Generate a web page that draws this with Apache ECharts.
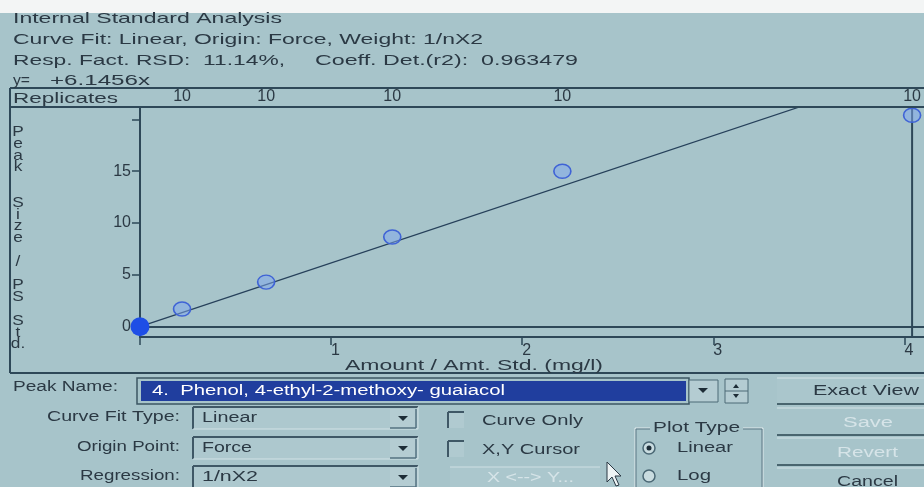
<!DOCTYPE html>
<html>
<head>
<meta charset="utf-8">
<script src="https://cdn.jsdelivr.net/npm/echarts@6/dist/echarts.min.js"></script>
<style>html,body{margin:0;padding:0;background:#a6c3c9;}#c{width:924px;height:487px;}</style>
</head>
<body>
<div id="c"></div>
<script>
// ---- data ----
const pointX = [0.22, 0.66, 1.32, 2.21, 4.04];
const pointY = [1.7, 4.3, 8.65, 15.0, 20.4];
const replicates = [10, 10, 10, 10, 10];
const originX = [0];
const originY = [0];
const slope = 6.1456;
const xTicks = [0, 1, 2, 3, 4];
const xTickLabels = [1, 2, 3, 4];
const yTicks = [0, 5, 10, 15, 20];
const yTickLabels = [0, 5, 10, 15];
const xRange = [0, 4.04];
const yRange = [-1, 21.2];

// ---- style ----
const BG = '#a7c4ca', TXT = '#2b3944', LINE = '#2e4858', GRAY = '#d6e4e8', FACE = '#b4ccd2';
const FONT = '"Liberation Sans", Arial, sans-serif';
const mctx = document.createElement('canvas').getContext('2d');
function T(text, x1, x2, yc, fs, color) {
  const font = fs + 'px ' + FONT;
  mctx.font = font;
  const w = mctx.measureText(text).width;
  return { type: 'text', x: x1, y: yc, scaleX: (x2 - x1) / w, z: 20,
    style: { text: text, font: font, fill: color || TXT, textAlign: 'left', textVerticalAlign: 'middle', align: 'left', verticalAlign: 'middle' } };
}
function L(x1, y1, x2, y2, c, w) {
  return { type: 'line', z: 15, shape: { x1, y1, x2, y2 }, style: { stroke: c || LINE, lineWidth: w || 2 } };
}
function R(x, y, w, h, fill, stroke, lw) {
  return { type: 'rect', z: 12, shape: { x, y, width: w, height: h }, style: { fill: fill || 'none', stroke: stroke || 'none', lineWidth: lw || 1 } };
}
function arrowDown(cx, cy) {
  return { type: 'polygon', z: 16, shape: { points: [[cx - 5, cy - 2], [cx + 5, cy - 2], [cx, cy + 3]] }, style: { fill: '#1d2c36' } };
}
function combo(y, label, lx1, value, vx2) {
  return [
    T(label, lx1, 180, y + 10, 14),
    R(193, y, 225, 22, '#adc8ce'),
    L(193, y, 418, y, '#3f5866', 2), L(193, y, 193, y + 22, '#3f5866', 2),
    L(193, y + 22, 418, y + 22, '#d2e2e6', 1), L(418, y, 418, y + 22, '#d2e2e6', 1),
    R(390, y + 2, 26, 19, FACE), L(390, y + 21, 416, y + 21, '#557280', 1.5), L(416, y + 2, 416, y + 21, '#557280', 1.5),
    arrowDown(403, y + 11),
    T(value, 202, vx2, y + 11, 14)
  ];
}

const yName = 'P\ne\na\nk\n\n\nS\ni\nz\ne\n\n/\n\nP\nS\n\nS\nt\nd.';

const graphics = [
  R(0, 0, 924, 13, '#f3f5f5'),
  T('Internal Standard Analysis', 13, 282, 19, 15),
  T('Curve Fit: Linear, Origin: Force, Weight: 1/nX2', 13, 483, 40, 15),
  T('Resp. Fact. RSD:  11.14%,', 13, 285, 61, 15),
  T('Coeff. Det.(r2):  0.963479', 315, 578, 61, 15),
  T('y=', 13, 30, 81, 14),
  T('+6.1456x', 50, 150, 81, 14),
  L(10, 88, 924, 88), L(10, 107, 924, 107), L(10, 88, 10, 373), L(10, 373, 924, 373),
  L(913, 327, 924, 327), L(913, 337, 924, 337),
  T('Replicates', 13, 118, 99, 15),
  { type: 'text', x: 18, y: 126, z: 20, scaleX: 1.15,
    style: { text: yName, font: '15px ' + FONT, fill: TXT, lineHeight: 11.8, textAlign: 'center', align: 'center', textVerticalAlign: 'top', verticalAlign: 'top' } },
  T('Amount / Amt. Std. (mg/l)', 345, 603, 366, 15),
  // peak name row
  T('Peak Name:', 13, 118, 387, 14),
  R(137, 378, 552, 26, 'none', '#3c5563', 1.5),
  R(141, 381, 545, 20, '#203e9e'),
  T('4.  Phenol, 4-ethyl-2-methoxy- guaiacol', 152, 505, 391, 14, '#ffffff'),
  R(689, 380, 29, 22, FACE, '#4d6a77', 1), arrowDown(703, 390),
  R(725, 379, 23, 24, FACE, '#4d6a77', 1), L(725, 391, 748, 391, '#4d6a77', 1),
  { type: 'polygon', z: 16, shape: { points: [[733, 388], [739, 388], [736, 384]] }, style: { fill: '#1d2c36' } },
  { type: 'polygon', z: 16, shape: { points: [[733, 394], [739, 394], [736, 398]] }, style: { fill: '#1d2c36' } },
  ...combo(407, 'Curve Fit Type:', 47, 'Linear', 257),
  ...combo(437, 'Origin Point:', 77, 'Force', 252),
  ...combo(466, 'Regression:', 80, '1/nX2', 258),
  // checkboxes
  R(448, 412, 16, 16, '#b0cad0'), L(448, 412, 464, 412, '#3f5866', 2), L(448, 412, 448, 428, '#3f5866', 2),
  R(448, 441, 16, 16, '#b0cad0'), L(448, 441, 464, 441, '#3f5866', 2), L(448, 441, 448, 457, '#3f5866', 2),
  T('Curve Only', 482, 583, 421, 14),
  T('X,Y Cursor', 482, 580, 450, 14),
  R(450, 467, 150, 22, '#abc7cd'), L(450, 467, 600, 467, '#cfe0e4', 1),
  T('X <--> Y...', 487, 574, 478, 14, GRAY),
  { type: 'polygon', z: 30, shape: { points: [[607, 462], [607, 482], [612, 477], [616, 486], [619, 485], [615, 476], [621, 476]] },
    style: { fill: '#eef4f5', stroke: '#2b3944', lineWidth: 1 } },
  // plot type group
  R(635, 428, 128, 70, 'none', '#e0eaec', 1),
  R(636, 429, 126, 68, 'none', '#5a7784', 1),
  R(650, 420, 93, 16, BG),
  T('Plot Type', 653, 740, 428, 14),
  { type: 'circle', z: 16, shape: { cx: 649, cy: 448, r: 6 }, style: { fill: '#c9dce0', stroke: '#4a6774', lineWidth: 1.5 } },
  { type: 'circle', z: 17, shape: { cx: 649, cy: 448, r: 2.5 }, style: { fill: '#1d2c36' } },
  T('Linear', 677, 733, 448, 14),
  { type: 'circle', z: 16, shape: { cx: 649, cy: 476, r: 6 }, style: { fill: '#c9dce0', stroke: '#4a6774', lineWidth: 1.5 } },
  T('Log', 677, 711, 476, 14),
  // right buttons
  R(777, 378, 147, 27, '#aac6cc'),
  L(777, 378, 924, 378, '#d4e3e7', 1), L(777, 404, 924, 404, '#49656f', 2),
  L(777, 408, 924, 408, '#d4e3e7', 1), L(777, 435, 924, 435, '#49656f', 2),
  L(777, 438, 924, 438, '#d4e3e7', 1), L(777, 465, 924, 465, '#49656f', 2),
  L(777, 468, 924, 468, '#d4e3e7', 1),
  T('Exact View', 813, 919, 391, 14),
  T('Save', 843, 893, 423, 14, GRAY),
  T('Revert', 837, 898, 453, 14, GRAY),
  T('Cancel', 837, 898, 482, 14)
];

const chart = echarts.init(document.getElementById('c'), null, { renderer: 'canvas' });
chart.setOption({
  backgroundColor: BG,
  animation: false,
  grid: { left: 140, right: 11, top: 107, bottom: 150, show: true, borderColor: LINE, borderWidth: 2, backgroundColor: 'transparent' },
  xAxis: [
    {
      type: 'value', position: 'bottom', min: xRange[0], max: xRange[1],
      axisLine: { show: true, onZero: false, lineStyle: { color: LINE, width: 2 } },
      axisTick: { show: true, inside: false, length: 8, customValues: xTicks, lineStyle: { color: LINE, width: 1.5 } },
      axisLabel: { customValues: xTickLabels, align: 'left', margin: 6, fontSize: 16, fontFamily: FONT, color: TXT },
      splitLine: { show: false }
    },
    {
      type: 'value', position: 'top', min: xRange[0], max: xRange[1],
      axisLine: { show: false }, axisTick: { show: false }, splitLine: { show: false },
      axisLabel: { customValues: pointX, margin: 2, fontSize: 16, fontFamily: FONT, color: TXT,
        formatter: function (v) { const i = pointX.indexOf(v); return i >= 0 ? String(replicates[i]) : ''; } }
    }
  ],
  yAxis: {
    type: 'value', min: yRange[0], max: yRange[1],
    axisLine: { show: true, onZero: false, lineStyle: { color: LINE, width: 2 } },
    axisTick: { show: true, length: 8, customValues: yTicks, lineStyle: { color: LINE, width: 1.5 } },
    axisLabel: { customValues: yTickLabels, margin: 9, fontSize: 16, fontFamily: FONT, color: TXT },
    splitLine: { show: false }
  },
  series: [
    {
      type: 'line', name: 'fit', clip: true, symbol: 'none', z: 3,
      data: [[xRange[0], slope * xRange[0]], [xRange[1], slope * xRange[1]]],
      lineStyle: { color: '#26405a', width: 1.2 },
      markLine: { silent: true, symbol: 'none', label: { show: false },
        lineStyle: { color: LINE, width: 2, type: 'solid' }, data: [{ yAxis: 0 }] }
    },
    {
      type: 'scatter', name: 'standards', z: 4, symbol: 'circle', symbolSize: [17, 14],
      data: pointX.map((x, i) => [x, pointY[i]]),
      itemStyle: { color: 'rgba(125,165,240,0.5)', borderColor: '#3f63d6', borderWidth: 1.5, opacity: 1 }
    },
    {
      type: 'scatter', name: 'origin', z: 5, symbol: 'circle', symbolSize: 19,
      data: originX.map((x, i) => [x, originY[i]]),
      itemStyle: { color: '#1e4ee6', opacity: 1 }
    }
  ],
  graphic: { elements: graphics }
});
</script>
</body>
</html>
